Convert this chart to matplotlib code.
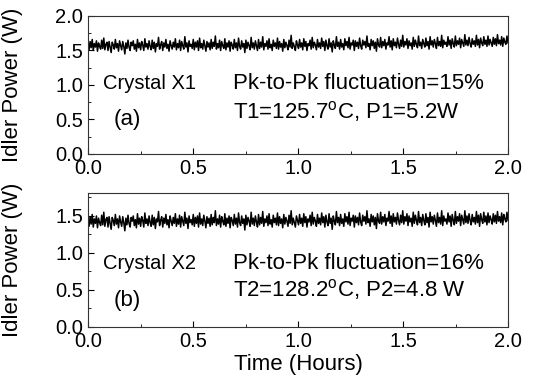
import matplotlib
matplotlib.use('Agg')
import matplotlib.pyplot as plt
import numpy as np
from matplotlib.ticker import MultipleLocator

plt.rcParams['font.family'] = ['Liberation Sans', 'DejaVu Sans']
plt.rcParams['mathtext.fontset'] = 'custom'
plt.rcParams['mathtext.rm'] = 'Liberation Sans'

# idler power readings, crystal X1 (W)
power_x1 = [
    1.57, 1.51, 1.63, 1.54, 1.66, 1.50, 1.60, 1.55, 1.64, 1.49, 1.61, 1.56, 1.52, 1.65, 1.53, 1.68, 1.51, 1.59, 1.62, 1.50,
    1.63, 1.55, 1.47, 1.62, 1.58, 1.52, 1.66, 1.54, 1.60, 1.49, 1.64, 1.57, 1.51, 1.63, 1.56, 1.45, 1.61, 1.53, 1.65, 1.55,
    1.50, 1.62, 1.57, 1.64, 1.52, 1.59, 1.49, 1.66, 1.54, 1.61, 1.51, 1.63, 1.58, 1.50, 1.67, 1.55, 1.60, 1.52, 1.64, 1.56,
    1.51, 1.65, 1.53, 1.62, 1.48, 1.60, 1.56, 1.69, 1.52, 1.58, 1.63, 1.50, 1.61, 1.55, 1.66, 1.53, 1.59, 1.49, 1.64, 1.57,
    1.52, 1.62, 1.55, 1.67, 1.51, 1.60, 1.54, 1.65, 1.50, 1.63, 1.57, 1.52, 1.70, 1.55, 1.61, 1.48, 1.64, 1.56, 1.59, 1.53,
    1.66, 1.51, 1.62, 1.55, 1.64, 1.50, 1.68, 1.54, 1.60, 1.52, 1.65, 1.57, 1.49, 1.63, 1.55, 1.61, 1.51, 1.66, 1.53, 1.62,
    1.56, 1.71, 1.52, 1.60, 1.54, 1.65, 1.50, 1.63, 1.57, 1.53, 1.67, 1.51, 1.61, 1.55, 1.64, 1.49, 1.62, 1.58, 1.52, 1.66,
    1.54, 1.61, 1.50, 1.68, 1.56, 1.52, 1.64, 1.55, 1.60, 1.47, 1.65, 1.53, 1.62, 1.57, 1.51, 1.69, 1.54, 1.61, 1.52, 1.64,
    1.57, 1.50, 1.66, 1.53, 1.62, 1.55, 1.70, 1.51, 1.60, 1.56, 1.64, 1.52, 1.67, 1.54, 1.59, 1.50, 1.65, 1.56, 1.61, 1.53,
    1.68, 1.52, 1.63, 1.55, 1.60, 1.49, 1.66, 1.54, 1.62, 1.57, 1.51, 1.65, 1.55, 1.72, 1.53, 1.61, 1.56, 1.50, 1.64, 1.58,
    1.53, 1.66, 1.55, 1.61, 1.51, 1.67, 1.56, 1.63, 1.50, 1.60, 1.57, 1.65, 1.52, 1.69, 1.54, 1.62, 1.58, 1.51, 1.66, 1.55,
    1.61, 1.53, 1.68, 1.56, 1.63, 1.50, 1.65, 1.57, 1.52, 1.67, 1.55, 1.61, 1.48, 1.64, 1.58, 1.53, 1.70, 1.56, 1.62, 1.52,
    1.66, 1.55, 1.60, 1.51, 1.67, 1.57, 1.63, 1.54, 1.69, 1.52, 1.61, 1.58, 1.65, 1.50, 1.64, 1.56, 1.62, 1.53, 1.68, 1.57,
    1.52, 1.65, 1.58, 1.63, 1.54, 1.71, 1.56, 1.60, 1.51, 1.66, 1.57, 1.64, 1.53, 1.62, 1.49, 1.67, 1.58, 1.55, 1.69, 1.54,
    1.63, 1.57, 1.66, 1.52, 1.61, 1.58, 1.70, 1.55, 1.64, 1.51, 1.67, 1.57, 1.62, 1.54, 1.68, 1.59, 1.53, 1.65, 1.56, 1.72,
    1.55, 1.63, 1.58, 1.67, 1.53, 1.64, 1.57, 1.61, 1.52, 1.69, 1.56, 1.65, 1.59, 1.54, 1.71, 1.57, 1.62, 1.53, 1.66, 1.60,
    1.55, 1.68, 1.57, 1.63, 1.52, 1.70, 1.58, 1.64, 1.55, 1.66, 1.60, 1.53, 1.69, 1.57, 1.63, 1.56, 1.72, 1.54, 1.65, 1.59,
    1.62, 1.56, 1.70, 1.58, 1.65, 1.53, 1.67, 1.60, 1.55, 1.71, 1.57, 1.64, 1.59, 1.68, 1.54, 1.66, 1.61, 1.56, 1.73, 1.58,
    1.65, 1.57, 1.69, 1.60, 1.55, 1.67, 1.59, 1.64, 1.56, 1.72, 1.58, 1.66, 1.54, 1.68, 1.61, 1.57, 1.70, 1.59, 1.65, 1.56,
    1.71, 1.58, 1.66, 1.61, 1.56, 1.69, 1.59, 1.67, 1.57, 1.73, 1.60, 1.65, 1.58, 1.70, 1.56, 1.68, 1.62, 1.59, 1.71, 1.61,
]

# idler power readings, crystal X2 (W)
power_x2 = [
    1.43, 1.36, 1.49, 1.39, 1.52, 1.35, 1.46, 1.40, 1.50, 1.34, 1.47, 1.41, 1.37, 1.51, 1.38, 1.55, 1.36, 1.45, 1.48, 1.35,
    1.49, 1.40, 1.32, 1.48, 1.44, 1.37, 1.52, 1.39, 1.46, 1.34, 1.50, 1.42, 1.36, 1.49, 1.41, 1.30, 1.47, 1.38, 1.51, 1.40,
    1.35, 1.48, 1.43, 1.50, 1.37, 1.45, 1.34, 1.53, 1.39, 1.47, 1.36, 1.49, 1.44, 1.35, 1.54, 1.40, 1.46, 1.37, 1.50, 1.41,
    1.36, 1.51, 1.38, 1.48, 1.33, 1.46, 1.42, 1.56, 1.37, 1.44, 1.49, 1.35, 1.47, 1.40, 1.52, 1.38, 1.45, 1.34, 1.50, 1.43,
    1.37, 1.48, 1.40, 1.53, 1.36, 1.46, 1.39, 1.51, 1.35, 1.49, 1.43, 1.37, 1.55, 1.40, 1.47, 1.33, 1.50, 1.41, 1.45, 1.38,
    1.52, 1.36, 1.48, 1.40, 1.50, 1.35, 1.54, 1.39, 1.46, 1.37, 1.51, 1.43, 1.34, 1.49, 1.40, 1.47, 1.36, 1.52, 1.38, 1.48,
    1.41, 1.57, 1.37, 1.46, 1.39, 1.51, 1.35, 1.49, 1.43, 1.38, 1.53, 1.36, 1.47, 1.40, 1.50, 1.34, 1.48, 1.44, 1.37, 1.52,
    1.39, 1.47, 1.35, 1.54, 1.41, 1.37, 1.50, 1.40, 1.46, 1.31, 1.51, 1.38, 1.48, 1.43, 1.36, 1.55, 1.39, 1.47, 1.37, 1.50,
    1.42, 1.35, 1.52, 1.38, 1.48, 1.40, 1.56, 1.36, 1.46, 1.41, 1.50, 1.37, 1.53, 1.39, 1.45, 1.35, 1.51, 1.41, 1.47, 1.38,
    1.54, 1.37, 1.49, 1.40, 1.46, 1.34, 1.52, 1.39, 1.48, 1.43, 1.36, 1.51, 1.40, 1.57, 1.38, 1.47, 1.41, 1.35, 1.50, 1.44,
    1.38, 1.52, 1.40, 1.47, 1.36, 1.53, 1.41, 1.49, 1.35, 1.46, 1.42, 1.51, 1.37, 1.55, 1.39, 1.48, 1.43, 1.36, 1.52, 1.40,
    1.47, 1.38, 1.54, 1.41, 1.49, 1.35, 1.51, 1.42, 1.37, 1.53, 1.40, 1.47, 1.32, 1.50, 1.43, 1.38, 1.56, 1.41, 1.48, 1.37,
    1.52, 1.40, 1.46, 1.36, 1.53, 1.42, 1.49, 1.39, 1.55, 1.37, 1.47, 1.43, 1.51, 1.35, 1.50, 1.41, 1.48, 1.38, 1.54, 1.42,
    1.37, 1.51, 1.43, 1.49, 1.39, 1.57, 1.41, 1.46, 1.36, 1.52, 1.42, 1.50, 1.38, 1.48, 1.33, 1.53, 1.43, 1.40, 1.55, 1.39,
    1.49, 1.42, 1.52, 1.37, 1.47, 1.43, 1.56, 1.40, 1.50, 1.36, 1.53, 1.42, 1.48, 1.39, 1.54, 1.44, 1.38, 1.51, 1.41, 1.57,
    1.39, 1.49, 1.43, 1.53, 1.37, 1.50, 1.42, 1.47, 1.36, 1.55, 1.40, 1.51, 1.44, 1.38, 1.56, 1.41, 1.48, 1.37, 1.52, 1.44,
    1.38, 1.53, 1.41, 1.48, 1.35, 1.55, 1.42, 1.49, 1.39, 1.51, 1.44, 1.36, 1.54, 1.41, 1.48, 1.39, 1.57, 1.37, 1.50, 1.43,
    1.46, 1.39, 1.54, 1.42, 1.50, 1.36, 1.52, 1.44, 1.38, 1.56, 1.40, 1.49, 1.43, 1.53, 1.37, 1.51, 1.45, 1.39, 1.57, 1.41,
    1.50, 1.40, 1.53, 1.44, 1.38, 1.52, 1.42, 1.48, 1.39, 1.56, 1.41, 1.51, 1.36, 1.53, 1.45, 1.40, 1.55, 1.42, 1.50, 1.38,
    1.54, 1.41, 1.50, 1.45, 1.39, 1.53, 1.42, 1.51, 1.40, 1.56, 1.43, 1.49, 1.41, 1.54, 1.38, 1.52, 1.46, 1.42, 1.55, 1.44,
]

t1 = np.linspace(0, 2.0, len(power_x1))
t2 = np.linspace(0, 2.0, len(power_x2))

fig = plt.figure(figsize=(5.33, 3.9), dpi=100)
ax1 = fig.add_axes([88/533, 1 - 154/390, 420/533, 138/390])
ax2 = fig.add_axes([88/533, 1 - 327/390, 420/533, 134/390])

panels = [
    (ax1, t1, power_x1, 2.0, 'Crystal X1', 'Pk-to-Pk fluctuation=15%',
     'T1=125.7$^{\\mathrm{o}}$C, P1=5.2W', '(a)', 1.02, 0.61, 0.50),
    (ax2, t2, power_x2, 1.81, 'Crystal X2', 'Pk-to-Pk fluctuation=16%',
     'T2=128.2$^{\\mathrm{o}}$C, P2=4.8 W', '(b)', 0.86, 0.50, 0.36),
]

for ax, t, p, ytop, name, fluct, cond, tag, y1, y2, y3 in panels:
    ax.plot(t, p, color='black', lw=1.1)
    ax.set_xlim(0, 2.0)
    ax.set_ylim(0, ytop)
    ax.xaxis.set_major_locator(MultipleLocator(0.5))
    ax.xaxis.set_minor_locator(MultipleLocator(0.25))
    ax.yaxis.set_major_locator(MultipleLocator(0.5))
    ax.yaxis.set_minor_locator(MultipleLocator(0.25))
    ax.tick_params(which='both', direction='in', top=False, right=False, labelsize=14.5)
    ax.tick_params(which='major', length=4)
    ax.tick_params(which='minor', length=2)
    ax.set_xticks([0, 0.5, 1.0, 1.5, 2.0])
    ax.set_xticklabels(['0.0', '0.5', '1.0', '1.5', '2.0'])
    ax.set_ylabel('Idler Power (W)', fontsize=16)
    ax.yaxis.set_label_coords(-0.155, 0.5)
    for s in ax.spines.values():
        s.set_color('#333333')
    ax.text(0.07, y1, name, fontsize=14.5, va='center')
    ax.text(0.69, y1, fluct, fontsize=16, va='center')
    ax.text(0.69, y2, cond, fontsize=16, va='center')
    ax.text(0.12, y3, tag, fontsize=16, va='center')

ax2.set_xlabel('Time (Hours)', fontsize=16, labelpad=2)

plt.savefig('out.png', dpi=100)
